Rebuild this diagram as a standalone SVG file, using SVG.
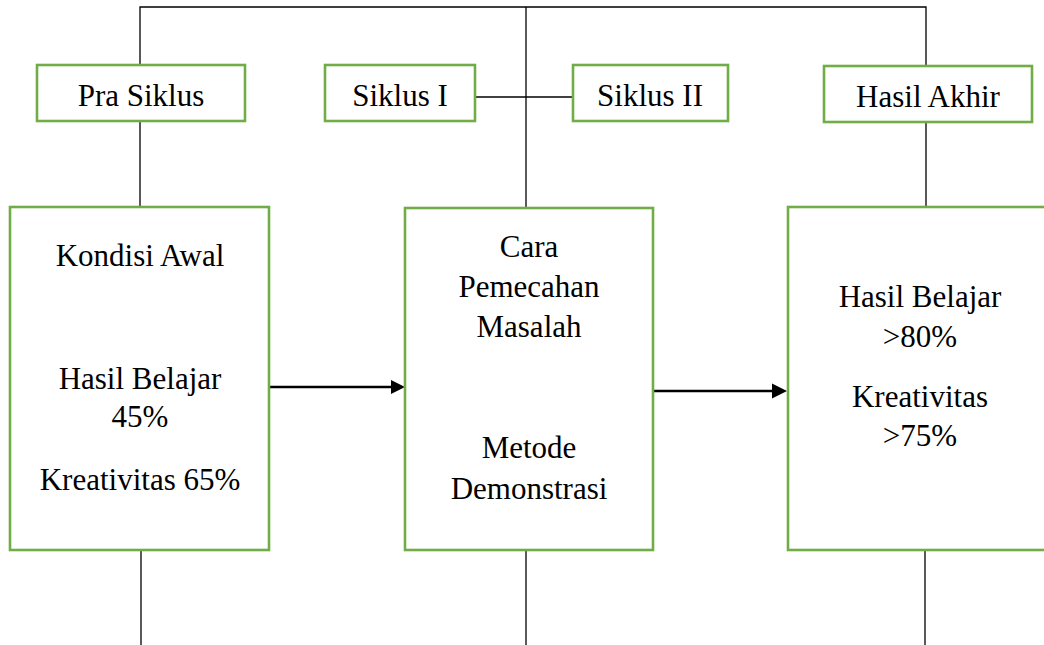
<svg xmlns="http://www.w3.org/2000/svg" width="1044" height="645" viewBox="0 0 1044 645">
<style>
.box{fill:#fff;stroke:#70AD47;stroke-width:2.6}
.ln{stroke:#000;stroke-width:1.3;fill:none}
.arr{stroke:#000;stroke-width:2.4;fill:none}
text{font-size:31px;fill:#000;text-anchor:middle}
</style>
<rect width="1044" height="645" fill="#fff"/>
<g id="connectors">
<polyline class="ln" points="140,207 140,7 926,7 926,207"/>
<line class="ln" x1="526" y1="7" x2="526" y2="207"/>
<line class="ln" x1="475" y1="97" x2="573" y2="97"/>
<line class="ln" x1="141" y1="550" x2="141" y2="645"/>
<line class="ln" x1="526" y1="550" x2="526" y2="645"/>
<line class="ln" x1="925" y1="550" x2="925" y2="645"/>
<line class="arr" x1="270" y1="387" x2="392" y2="387"/>
<polygon points="391,380 405,387 391,394" fill="#000"/>
<line class="arr" x1="650" y1="391" x2="774" y2="391"/>
<polygon points="772,383.5 787,391 772,398.5" fill="#000"/>
</g>
<g font-family="Liberation Serif, Times New Roman, DejaVu Serif, serif">
<g id="pra-siklus"><rect class="box" x="37" y="65" width="208" height="56"/><text x="141" y="106">Pra Siklus</text></g>
<g id="siklus-1"><rect class="box" x="325" y="65" width="150" height="56"/><text x="400" y="106">Siklus I</text></g>
<g id="siklus-2"><rect class="box" x="573" y="65" width="155" height="56"/><text x="650" y="106">Siklus II</text></g>
<g id="hasil-akhir"><rect class="box" x="824" y="66" width="208" height="56"/><text x="928" y="107">Hasil Akhir</text></g>
<g id="kondisi-awal"><rect class="box" x="10" y="207" width="259" height="343"/>
<text x="140" y="266">Kondisi Awal</text>
<text x="140" y="389">Hasil Belajar</text>
<text x="140" y="427">45%</text>
<text x="140" y="490">Kreativitas 65%</text></g>
<g id="pemecahan"><rect class="box" x="405" y="208" width="248" height="342"/>
<text x="529" y="257">Cara</text>
<text x="529" y="297">Pemecahan</text>
<text x="529" y="337">Masalah</text>
<text x="529" y="458">Metode</text>
<text x="529" y="499">Demonstrasi</text></g>
<g id="hasil"><rect class="box" x="788" y="207" width="270" height="343"/>
<text x="920" y="307">Hasil Belajar</text>
<text x="920" y="347">&gt;80%</text>
<text x="920" y="407">Kreativitas</text>
<text x="920" y="446">&gt;75%</text></g>
</g>
</svg>
